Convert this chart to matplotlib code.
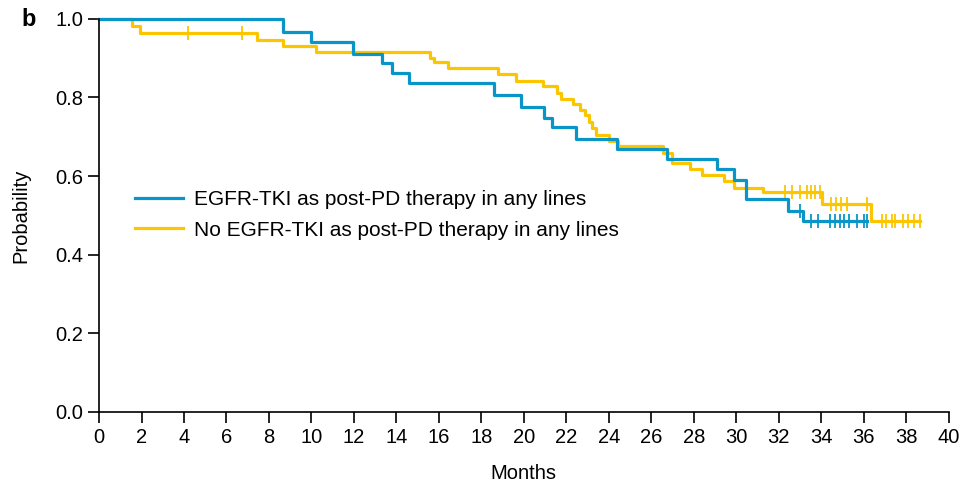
import numpy as np
import matplotlib
matplotlib.use("Agg")
import matplotlib.pyplot as plt

plt.rcParams['font.family'] = ['Liberation Sans', 'DejaVu Sans']

## Kaplan-Meier steps (month of drop, probability after drop)
egfr_times = [0, 8.66, 9.98, 11.95, 13.32, 13.79, 14.59, 18.59, 19.86, 20.94, 21.32,
              22.45, 24.38, 26.73, 29.08, 29.88, 30.45, 32.42, 33.13]
egfr_surv = [1.0, 0.967, 0.941, 0.911, 0.888, 0.863, 0.837, 0.806, 0.776, 0.748, 0.725,
             0.695, 0.669, 0.644, 0.618, 0.590, 0.542, 0.511, 0.485]
egfr_censor = [32.99, 33.51, 33.84, 34.40, 34.64, 34.87, 35.06, 35.29, 35.67, 36.00, 36.14]

none_times = [0, 1.55, 1.93, 7.44, 8.66, 10.21, 15.58, 15.76, 16.42, 18.78, 19.62,
              20.89, 21.55, 21.74, 22.31, 22.64, 22.87, 23.06, 23.20, 23.39, 24.00,
              24.42, 26.54, 26.96, 27.81, 28.38, 29.41, 29.88, 31.25, 34.02, 36.33]
none_surv = [1.0, 0.982, 0.964, 0.947, 0.931, 0.916, 0.901, 0.891, 0.875, 0.860, 0.842,
             0.830, 0.812, 0.796, 0.784, 0.768, 0.756, 0.738, 0.723, 0.705, 0.690,
             0.677, 0.659, 0.634, 0.618, 0.603, 0.588, 0.570, 0.560, 0.529, 0.485]
none_censor = [4.2, 6.74, 32.28, 32.61, 32.99, 33.32, 33.51, 33.69, 33.93, 34.45, 34.68,
               34.92, 35.20, 36.14, 36.85, 37.04, 37.32, 37.46, 37.84, 38.07, 38.35, 38.64]

labels = ["EGFR-TKI as post-PD therapy in any lines",
          "No EGFR-TKI as post-PD therapy in any lines"]
blue = "#0a95c9"
yellow = "#fbc600"


def km_line(ax, times, surv, censor, color, label):
	# extend the last step to the last censored time
	t = list(times) + [max(censor)]
	s = list(surv) + [surv[-1]]
	ax.step(t, s, where='post', color=color, lw=2.3, label=label, clip_on=False)
	idx = np.searchsorted(times, censor, side='right') - 1
	ax.plot(censor, np.array(surv)[idx], ls='none', marker='|', ms=10, mew=1.3,
	        color=color, clip_on=False)


fig = plt.figure(figsize=(9.71, 4.84), dpi=100)
ax = fig.add_axes([0.102, 0.149, 0.875, 0.812])

km_line(ax, none_times, none_surv, none_censor, yellow, labels[1])
km_line(ax, egfr_times, egfr_surv, egfr_censor, blue, labels[0])

ax.set_xlim(0, 40)
ax.set_ylim(0, 1.0)
ax.set_xticks(np.arange(0, 41, 2))
ax.set_yticks(np.arange(0, 1.01, 0.2))
ax.set_yticklabels(["0.0", "0.2", "0.4", "0.6", "0.8", "1.0"])
ax.spines['top'].set_visible(False)
ax.spines['right'].set_visible(False)
ax.tick_params(labelsize=14.5, length=8, width=1.2)
for sp in ax.spines.values():
	sp.set_linewidth(1.2)

ax.set_xlabel("Months", fontsize=14.5, labelpad=12)
ax.set_ylabel("Probability", fontsize=14.5, labelpad=18)

handles, labs = ax.get_legend_handles_labels()
order = [1, 0]
ax.legend([handles[i] for i in order], [labs[i] for i in order],
          loc='upper left', bbox_to_anchor=(0.02, 0.612), frameon=False,
          fontsize=15, handlelength=2.3, handletextpad=0.55, labelspacing=0.55)

fig.text(0.022, 0.96, "b", fontsize=17, fontweight='bold', va='center')

fig.savefig("out.png", dpi=100)
